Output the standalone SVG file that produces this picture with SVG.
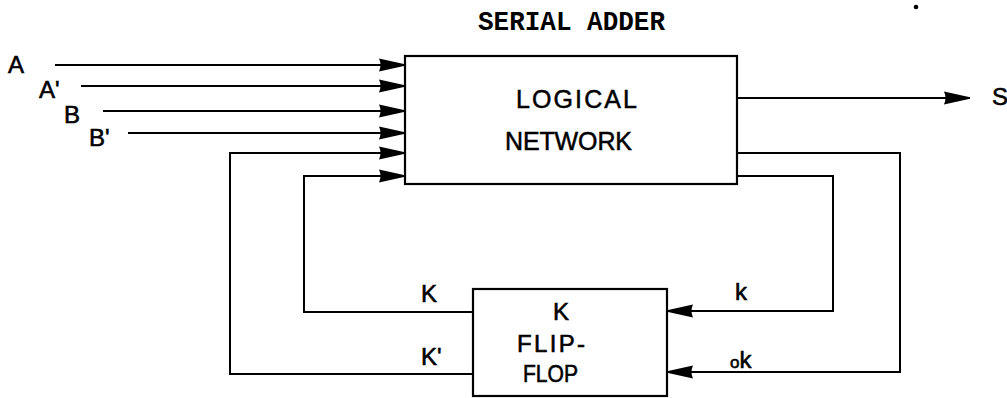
<svg xmlns="http://www.w3.org/2000/svg" width="1007" height="398" viewBox="0 0 1007 398">
<style>
.ln{fill:none;stroke:#000;stroke-width:2;stroke-linejoin:miter}
.box{fill:#fff;stroke:#000;stroke-width:2.2}
.lb{font-family:"Liberation Sans",Arial,sans-serif;font-size:24px;fill:#000;stroke:#000;stroke-width:0.6}
.bl{font-family:"Liberation Sans",Arial,sans-serif;font-size:25px;fill:#000;stroke:#000;stroke-width:0.5}
.tt{font-family:"Liberation Mono","Courier New",monospace;font-weight:bold;font-size:27px;fill:#000}
</style>
<defs>
<marker id="ah" viewBox="0 0 26 14" refX="26" refY="7" markerWidth="26" markerHeight="14" markerUnits="userSpaceOnUse" orient="auto">
<path d="M0,0.5 Q3,7 0,13.5 L26,7.8 L26,6.2 Z" fill="#000"/>
</marker>
</defs>
<text class="tt" x="478" y="30" textLength="187" lengthAdjust="spacingAndGlyphs">SERIAL ADDER</text>
<circle cx="916" cy="7" r="2.3" fill="#000"/>
<g id="connectors">
<line class="ln" x1="55" y1="65" x2="405" y2="65" marker-end="url(#ah)"/>
<line class="ln" x1="81" y1="86" x2="405" y2="86" marker-end="url(#ah)"/>
<line class="ln" x1="103" y1="111" x2="405" y2="111" marker-end="url(#ah)"/>
<line class="ln" x1="128" y1="133" x2="405" y2="133" marker-end="url(#ah)"/>
<path class="ln" d="M473,374 H230 V153 H405" marker-end="url(#ah)"/>
<path class="ln" d="M473,312 H304 V176 H405" marker-end="url(#ah)"/>
<line class="ln" x1="737" y1="98" x2="970" y2="98" marker-end="url(#ah)"/>
<path class="ln" d="M737,153 H900 V372 H667" marker-end="url(#ah)"/>
<path class="ln" d="M737,176 H833 V311 H667" marker-end="url(#ah)"/>
</g>
<g id="logical-network">
<rect class="box" x="405" y="56" width="332" height="128"/>
<text class="bl" x="516" y="108" textLength="121">LOGICAL</text>
<text class="bl" x="505" y="150" textLength="127">NETWORK</text>
</g>
<g id="flip-flop">
<rect class="box" x="473" y="289" width="194" height="107"/>
<text class="lb" x="553" y="320">K</text>
<text class="lb" x="517" y="352" textLength="68">FLIP-</text>
<text class="lb" x="523" y="382" textLength="55" lengthAdjust="spacingAndGlyphs">FLOP</text>
</g>
<g id="labels">
<text class="lb" x="8" y="73">A</text>
<text class="lb" x="39" y="98">A'</text>
<text class="lb" x="64" y="123">B</text>
<text class="lb" x="89" y="146">B'</text>
<text class="lb" x="992" y="105">S</text>
<text class="lb" x="421" y="302">K</text>
<text class="lb" x="421" y="365">K'</text>
<text class="lb" x="735" y="300">k</text>
<text class="lb" x="730" y="368"><tspan font-size="17">o</tspan>k</text>
</g>
</svg>
